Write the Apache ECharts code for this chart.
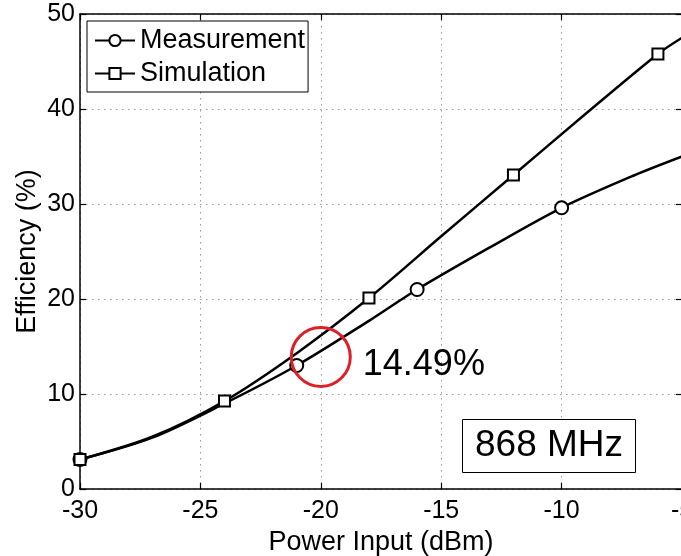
<!DOCTYPE html>
<html>
<head>
<meta charset="utf-8">
<script src="https://cdn.jsdelivr.net/npm/echarts@6/dist/echarts.min.js"></script>
<style>
html,body{margin:0;padding:0;background:#fff;}
#chart{width:681px;height:556px;}
</style>
</head>
<body>
<div id="chart"></div>
<script>
// Data
var measX = [-30, -27, -24, -21, -18, -16, -13, -10, -7, -5];
var measY = [3.1, 5.4, 9.0, 13.0, 17.7, 21.0, 25.4, 29.6, 33.0, 35.0];
var measMarkerX = [-30, -21, -16, -10];

var simX = [-30, -27, -24, -21, -18, -15, -12, -9, -6, -5];
var simY = [3.1, 5.5, 9.26, 14.3, 20.1, 26.6, 33.05, 39.5, 45.8, 47.5];
var simMarkerX = [-30, -24, -18, -12, -6];

var highlightPoint = [-20, 13.9];
var highlightLabel = '14.49%';
var freqLabel = '868 MHz';

var xTicks = [-30, -25, -20, -15, -10, -5];
var yTicks = [0, 10, 20, 30, 40, 50];

function buildData(xs, ys, markers) {
  return xs.map(function (x, i) {
    var item = { value: [x, ys[i]] };
    if (markers.indexOf(x) < 0) item.symbol = 'none';
    return item;
  });
}

var FONT = '"Liberation Sans", Arial, sans-serif';
var chart = echarts.init(document.getElementById('chart'), null, { renderer: 'canvas' });

var axisLineStyle = { color: '#000', width: 1.5 };
var gridLine = { show: true, lineStyle: { color: '#999', width: 1, type: [1.5, 4.5] } };

var option = {
  backgroundColor: '#fff',
  animation: false,
  textStyle: { fontFamily: FONT },
  grid: { left: 80, top: 14, width: 602, height: 475, outerBoundsMode: 'none', containLabel: false },
  title: {
    text: freqLabel,
    left: 462, top: 419,
    padding: [8, 13],
    borderColor: '#000', borderWidth: 1,
    backgroundColor: '#fff',
    textStyle: { fontFamily: FONT, fontSize: 37, fontWeight: 'normal', color: '#000', lineHeight: 38 }
  },
  legend: {
    orient: 'vertical',
    left: 87, top: 21,
    padding: [6, 3, 5, 7],
    itemGap: 6,
    itemWidth: 40, itemHeight: 14,
    borderColor: '#000', borderWidth: 1,
    backgroundColor: '#fff',
    textStyle: { fontFamily: FONT, fontSize: 27, color: '#000', lineHeight: 26 },
    data: ['Measurement', 'Simulation']
  },
  xAxis: [{
    type: 'value', min: -30, max: -5, interval: 5, position: 'bottom',
    name: 'Power Input (dBm)', nameLocation: 'middle', nameGap: 40,
    nameTextStyle: { fontFamily: FONT, fontSize: 27, color: '#000' },
    axisLine: { show: true, onZero: false, lineStyle: axisLineStyle },
    axisTick: { show: true, inside: true, length: 6, lineStyle: { color: '#000', width: 1.2 } },
    axisLabel: { fontFamily: FONT, fontSize: 25, color: '#000', margin: 10,
      formatter: function (v) { return xTicks.indexOf(v) >= 0 ? String(v) : ''; } },
    splitLine: gridLine
  }, {
    type: 'value', min: -30, max: -5, interval: 5, position: 'top',
    axisLine: { show: true, onZero: false, lineStyle: axisLineStyle },
    axisTick: { show: true, inside: true, length: 6, lineStyle: { color: '#000', width: 1.2 } },
    axisLabel: { show: false }, splitLine: { show: false }
  }],
  yAxis: [{
    type: 'value', min: 0, max: 50, interval: 10, position: 'left',
    name: 'Efficiency (%)', nameLocation: 'middle', nameGap: 39, nameRotate: 90,
    nameMoveOverlap: false,
    nameTextStyle: { fontFamily: FONT, fontSize: 27, color: '#000' },
    axisLine: { show: true, onZero: false, lineStyle: axisLineStyle },
    axisTick: { show: true, inside: true, length: 6, lineStyle: { color: '#000', width: 1.2 } },
    axisLabel: { fontFamily: FONT, fontSize: 25, color: '#000', margin: 5,
      formatter: function (v) { return yTicks.indexOf(v) >= 0 ? String(v) : ''; } },
    splitLine: gridLine
  }, {
    type: 'value', min: 0, max: 50, interval: 10, position: 'right',
    axisLine: { show: true, onZero: false, lineStyle: axisLineStyle },
    axisTick: { show: true, inside: true, length: 6, lineStyle: { color: '#000', width: 1.2 } },
    axisLabel: { show: false }, splitLine: { show: false }
  }],
  series: [{
    name: 'Measurement', type: 'line',
    xAxisIndex: 0, yAxisIndex: 0,
    smooth: 0.3,
    symbol: 'emptyCircle', symbolSize: 13,
    showAllSymbol: true,
    lineStyle: { color: '#000', width: 2.5 },
    itemStyle: { color: '#000', borderColor: '#000', borderWidth: 2 },
    data: buildData(measX, measY, measMarkerX),
    markPoint: {
      silent: true,
      symbol: 'circle', symbolSize: 59,
      itemStyle: { color: 'rgba(0,0,0,0)', borderColor: '#dd2027', borderWidth: 3 },
      label: {
        show: true, position: 'right', distance: 11, offset: [0, 8],
        formatter: highlightLabel,
        fontFamily: FONT, fontSize: 36, color: '#000'
      },
      data: [{ coord: highlightPoint }]
    },
    z: 3
  }, {
    name: 'Simulation', type: 'line',
    xAxisIndex: 0, yAxisIndex: 0,
    smooth: 0.3,
    symbol: 'emptyRect', symbolSize: 11,
    showAllSymbol: true,
    lineStyle: { color: '#000', width: 2.5 },
    itemStyle: { color: '#000', borderColor: '#000', borderWidth: 2 },
    data: buildData(simX, simY, simMarkerX),
    z: 3
  }]
};
chart.setOption(option);
</script>
</body>
</html>
